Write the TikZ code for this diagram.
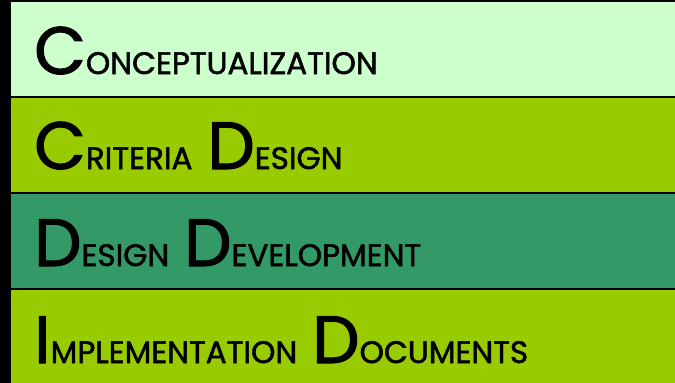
\documentclass[tikz,border=0pt]{standalone}
\usepackage{fontspec}
\setmainfont{Poppins}[FakeBold=1.6]
\usetikzlibrary{positioning}
\definecolor{paleGreen}{HTML}{CCFFCC}
\definecolor{limeGreen}{HTML}{99CC00}
\definecolor{seaGreen}{HTML}{339966}
\newcommand{\capword}[2]{{\fontsize{67}{67}\selectfont #1}{\fontsize{31}{31}\selectfont #2}}
\newcommand{\stagegap}{\hspace{15pt}}
\tikzset{stage/.style={anchor=base west, inner sep=0pt, font=\fontsize{31}{31}\selectfont}}

\begin{document}
\begin{tikzpicture}[x=1pt, y=-1pt]
		%%%%% START %%%%%
		\useasboundingbox (0, 0) rectangle (675, 383);
		\fill[black] (0, 0) rectangle (675, 383);
		
		\fill[paleGreen] (11, 2) rectangle (675, 96);
		\fill[limeGreen] (11, 98) rectangle (675, 192);
		\fill[seaGreen] (11, 194) rectangle (675, 288);
		\fill[limeGreen] (11, 290) rectangle (675, 383);
		
		\node[stage] (concept) at (34, 74) {\capword{C}{ONCEPTUALIZATION}};
		\node[stage] (criteria) at (34, 169) {\capword{C}{RITERIA}\stagegap\capword{D}{ESIGN}};
		\node[stage] (develop) at (34, 266) {\capword{D}{ESIGN}\stagegap\capword{D}{EVELOPMENT}};
		\node[stage] (docs) at (34, 363) {\capword{I}{MPLEMENTATION}\stagegap\capword{D}{OCUMENTS}};
		%%%%% END %%%%%
\end{tikzpicture}
\end{document}
